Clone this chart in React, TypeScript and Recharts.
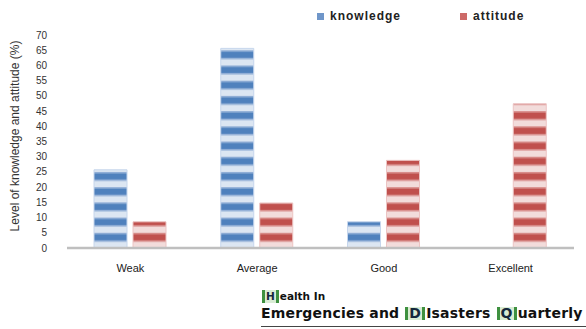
import { BarChart, Bar, XAxis, YAxis } from 'recharts';

const levels = ['Weak', 'Average', 'Good', 'Excellent'];
const knowledge = [25.7, 65.6, 8.6, null];
const attitude = [8.6, 14.8, 28.8, 47.4];
const yTicks = [0, 5, 10, 15, 20, 25, 30, 35, 40, 45, 50, 55, 60, 65, 70];

const data = levels.map((level, i) => ({
  level,
  knowledge: knowledge[i],
  attitude: attitude[i],
}));

const font = '"Liberation Sans", Arial, sans-serif';

function Stripes({ id, dark, mid, light }: { id: string; dark: string; mid: string; light: string }) {
  // horizontal stripe fill, period same as one tick step
  return (
    <pattern id={id} patternUnits="userSpaceOnUse" x={0} y={4.6} width={10} height={15.21}>
      <rect x={0} y={0} width={10} height={15.21} fill={light} />
      <rect x={0} y={0} width={10} height={1.6} fill={mid} />
      <rect x={0} y={1.4} width={10} height={6.2} fill={dark} />
      <rect x={0} y={7.5} width={10} height={1.6} fill={mid} />
    </pattern>
  );
}

function YLabel() {
  return (
    <text
      x={15}
      y={136}
      transform="rotate(-90, 15, 136)"
      textAnchor="middle"
      dominantBaseline="central"
      fontFamily={font}
      fontSize={12}
      fill="#333"
    >
      Level of knowledge and attitude (%)
    </text>
  );
}

function LegendBox() {
  const item = (color: string, text: string, left: number) => (
    <div style={{ position: 'absolute', left, top: 9, display: 'flex', alignItems: 'center' }}>
      <span style={{ width: 7, height: 7, background: color, display: 'inline-block', marginRight: 6 }} />
      <span style={{ fontFamily: font, fontSize: 12, fontWeight: 'bold', letterSpacing: 1, color: '#222' }}>{text}</span>
    </div>
  );
  return (
    <>
      {item('#6f96c9', 'knowledge', 317)}
      {item('#cd6a68', 'attitude', 460)}
    </>
  );
}

function Boxed({ ch }: { ch: string }) {
  return (
    <span
      style={{
        display: 'inline-block',
        borderLeft: '3px solid #3f9140',
        borderRight: '3px solid #3f9140',
        padding: '0 1px',
        lineHeight: '13px',
        margin: '0 1px',
        color: '#14283c',
        background: '#d9ecd4',
      }}
    >
      {ch}
    </span>
  );
}

export default function App() {
  return (
    <div style={{ position: 'absolute', left: 0, top: 0, width: 586, height: 329, background: '#fff', overflow: 'hidden' }}>
      <BarChart
        width={586}
        height={280}
        data={data}
        margin={{ top: 35, right: 12, left: 0, bottom: 0 }}
        barSize={33}
        barGap={6}
      >
        <defs>
          <Stripes id="blueStripe" dark="#4f81bd" mid="#93b0d7" light="#dce6f2" />
          <Stripes id="redStripe" dark="#c0504d" mid="#d98f8d" light="#f2dcdb" />
        </defs>
        <XAxis
          dataKey="level"
          height={32}
          axisLine={{ stroke: '#bfbfbf', strokeWidth: 2.5 }}
          tickLine={false}
          tickMargin={10}
          tick={{ fontFamily: font, fontSize: 11, fill: '#222' }}
        />
        <YAxis
          width={67}
          domain={[0, 70]}
          ticks={yTicks}
          interval={0}
          axisLine={false}
          tickLine={false}
          tickMargin={14}
          tick={{ fontFamily: font, fontSize: 10, fill: '#333' }}
        />
        <Bar dataKey="knowledge" fill="url(#blueStripe)" stroke="#c6d6ec" strokeWidth={1} isAnimationActive={false} />
        <Bar dataKey="attitude" fill="url(#redStripe)" stroke="#ecc4c3" strokeWidth={1} isAnimationActive={false} />
        <YLabel />
      </BarChart>
      <LegendBox />
      <div style={{ position: 'absolute', left: 261, top: 290, fontFamily: '"DejaVu Sans", Verdana, sans-serif', color: '#111' }}>
        <div style={{ fontSize: 10.5, fontWeight: 'bold', lineHeight: '13px' }}>
          <Boxed ch="H" />ealth In
        </div>
        <div style={{ fontSize: 14, fontWeight: 'bold', lineHeight: '20px', whiteSpace: 'nowrap', letterSpacing: 0.2 }}>
          Emergencies and <Boxed ch="D" />Isasters <Boxed ch="Q" />uarterly
        </div>
      </div>
      <div style={{ position: 'absolute', left: 261, top: 326, width: 325, height: 1, background: '#444' }} />
    </div>
  );
}
